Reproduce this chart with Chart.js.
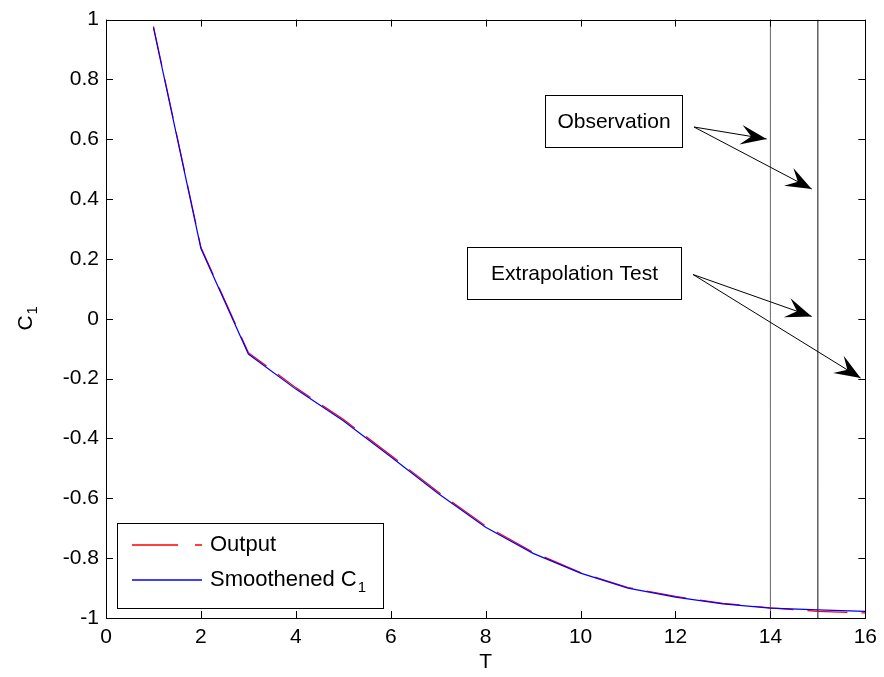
<!DOCTYPE html>
<html>
<head>
<meta charset="utf-8">
<script src="https://cdn.jsdelivr.net/npm/chart.js@4.4.1/dist/chart.umd.min.js"></script>
<style>
  html, body { margin: 0; padding: 0; background: #fff; }
  #wrap { width: 884px; height: 677px; }
</style>
</head>
<body>
<div id="wrap"><canvas id="c1Chart"></canvas></div>
<script>
// sample times
const tValues = [1, 2, 3, 4, 5, 6, 7, 8, 9, 10, 11, 12, 13, 14, 15, 16];
// smoothed coefficient and raw output
const smoothC1 = [0.973, 0.235, -0.118, -0.235, -0.341, -0.461, -0.584, -0.697, -0.784, -0.85, -0.9, -0.93, -0.953, -0.967, -0.973, -0.978];
const outputC1 = [0.977, 0.239, -0.113, -0.23, -0.336, -0.456, -0.579, -0.692, -0.78, -0.848, -0.898, -0.928, -0.951, -0.966, -0.978, -0.983];
// observation / extrapolation markers
const markerT = [14, 15];
const xTicks = [0, 2, 4, 6, 8, 10, 12, 14, 16];
const yTicks = [-1, -0.8, -0.6, -0.4, -0.2, 0, 0.2, 0.4, 0.6, 0.8, 1];

// text boxes and arrows, in axis units
const notes = [
  { text: 'Observation', box: [9.26, 0.749, 12.14, 0.574], from: [12.39, 0.641], to: [[13.92, 0.601], [14.87, 0.434]] },
  { text: 'Extrapolation Test', box: [7.6, 0.24, 12.12, 0.067], from: [12.37, 0.148], to: [[14.87, 0.008], [15.9, -0.198]] }
];

const FONT = 'Liberation Sans, Arial, Helvetica, sans-serif';

const pts = (xs, ys) => xs.map((x, i) => ({ x: x, y: ys[i] }));

const datasets = [
  {
    label: 'Output',
    data: pts(tValues, outputC1),
    borderColor: '#ff0000',
    borderWidth: 1.2,
    borderDash: [40, 14],
    pointRadius: 0,
    order: 2
  },
  {
    label: 'Smoothened C1',
    data: pts(tValues, smoothC1),
    borderColor: '#0000ff',
    borderWidth: 1.2,
    pointRadius: 0,
    order: 1
  }
];
markerT.forEach((t, i) => {
  datasets.push({
    label: 'marker' + t,
    data: [{ x: t, y: -1 }, { x: t, y: 1 }],
    borderColor: i === 0 ? '#666666' : '#111111',
    borderWidth: 1,
    pointRadius: 0,
    order: 3
  });
});

function arrow(ctx, x0, y0, x1, y1) {
  ctx.beginPath();
  ctx.moveTo(x0, y0);
  ctx.lineTo(x1, y1);
  ctx.strokeStyle = '#000';
  ctx.lineWidth = 1;
  ctx.stroke();
  const a = Math.atan2(y1 - y0, x1 - x0);
  const L = 26, W = 10;
  ctx.save();
  ctx.translate(x1, y1);
  ctx.rotate(a);
  ctx.beginPath();
  ctx.moveTo(0, 0);
  ctx.lineTo(-L, -W);
  ctx.lineTo(-L * 0.6, 0);
  ctx.lineTo(-L, W);
  ctx.closePath();
  ctx.fillStyle = '#000';
  ctx.fill();
  ctx.restore();
}

function legendRow(ctx, x, y, color, dashed, label, sub) {
  ctx.save();
  ctx.setLineDash([]);
  ctx.strokeStyle = color;
  ctx.lineWidth = 1.3;
  ctx.beginPath();
  if (dashed) {
    ctx.moveTo(x + 15, y); ctx.lineTo(x + 61, y);
    ctx.moveTo(x + 78, y); ctx.lineTo(x + 85, y);
  } else {
    ctx.moveTo(x + 15, y); ctx.lineTo(x + 85, y);
  }
  ctx.stroke();
  ctx.fillStyle = '#000';
  ctx.textAlign = 'left';
  ctx.textBaseline = 'middle';
  ctx.font = '22px ' + FONT;
  ctx.fillText(label, x + 93, y);
  if (sub) {
    const w = ctx.measureText(label).width;
    ctx.font = '15px ' + FONT;
    ctx.fillText(sub, x + 94 + w, y + 8);
  }
  ctx.restore();
}

const matlabAxes = {
  id: 'matlabAxes',
  afterDraw(chart) {
    const ctx = chart.ctx;
    const a = chart.chartArea;
    const xs = chart.scales.x, ys = chart.scales.y;
    ctx.save();

    // box
    ctx.strokeStyle = '#000';
    ctx.lineWidth = 1;
    ctx.strokeRect(Math.round(a.left) + 0.5, Math.round(a.top) + 0.5,
      Math.round(a.right - a.left), Math.round(a.bottom - a.top));

    // inward ticks on all sides
    const tl = 7;
    ctx.beginPath();
    xTicks.forEach(v => {
      const px = Math.round(xs.getPixelForValue(v)) + 0.5;
      ctx.moveTo(px, a.bottom); ctx.lineTo(px, a.bottom - tl);
      ctx.moveTo(px, a.top); ctx.lineTo(px, a.top + tl);
    });
    yTicks.forEach(v => {
      const py = Math.round(ys.getPixelForValue(v)) + 0.5;
      ctx.moveTo(a.left, py); ctx.lineTo(a.left + tl, py);
      ctx.moveTo(a.right, py); ctx.lineTo(a.right - tl, py);
    });
    ctx.stroke();

    // y axis title with subscript
    ctx.save();
    ctx.translate(32, (a.top + a.bottom) / 2);
    ctx.rotate(-Math.PI / 2);
    ctx.fillStyle = '#000';
    ctx.textBaseline = 'alphabetic';
    ctx.textAlign = 'left';
    ctx.font = '21px ' + FONT;
    const cw = ctx.measureText('C').width;
    ctx.font = '15px ' + FONT;
    const sw = ctx.measureText('1').width;
    const start = -(cw + sw) / 2;
    ctx.font = '21px ' + FONT;
    ctx.fillText('C', start, 0);
    ctx.font = '15px ' + FONT;
    ctx.fillText('1', start + cw + 1, 5);
    ctx.restore();

    // notes
    ctx.font = '21px ' + FONT;
    ctx.textBaseline = 'middle';
    ctx.textAlign = 'center';
    notes.forEach(n => {
      const x0 = Math.round(xs.getPixelForValue(n.box[0])) + 0.5;
      const y0 = Math.round(ys.getPixelForValue(n.box[1])) + 0.5;
      const x1 = Math.round(xs.getPixelForValue(n.box[2])) + 0.5;
      const y1 = Math.round(ys.getPixelForValue(n.box[3])) + 0.5;
      ctx.fillStyle = '#fff';
      ctx.fillRect(x0, y0, x1 - x0, y1 - y0);
      ctx.strokeStyle = '#000';
      ctx.lineWidth = 1;
      ctx.strokeRect(x0, y0, x1 - x0, y1 - y0);
      ctx.fillStyle = '#000';
      ctx.fillText(n.text, (x0 + x1) / 2, (y0 + y1) / 2 + 1);
      const fx = xs.getPixelForValue(n.from[0]), fy = ys.getPixelForValue(n.from[1]);
      n.to.forEach(t => arrow(ctx, fx, fy, xs.getPixelForValue(t[0]), ys.getPixelForValue(t[1])));
    });

    // legend
    const lx = Math.round(a.left) + 11, ly = Math.round(a.bottom) - 95;
    ctx.fillStyle = '#fff';
    ctx.fillRect(lx + 0.5, ly + 0.5, 266, 85);
    ctx.strokeStyle = '#000';
    ctx.lineWidth = 1;
    ctx.strokeRect(lx + 0.5, ly + 0.5, 266, 85);
    legendRow(ctx, lx, ly + 22, '#ff0000', true, 'Output', null);
    legendRow(ctx, lx, ly + 57, '#0000ff', false, 'Smoothened C', '1');

    ctx.restore();
  }
};

new Chart(document.getElementById('c1Chart'), {
  type: 'line',
  data: { datasets: datasets },
  options: {
    responsive: true,
    maintainAspectRatio: false,
    animation: false,
    layout: { padding: { top: 17, right: 16, left: 0, bottom: 0 } },
    plugins: { legend: { display: false }, tooltip: { enabled: false } },
    scales: {
      x: {
        type: 'linear',
        min: 0,
        max: 16,
        afterBuildTicks: s => { s.ticks = xTicks.map(v => ({ value: v })); },
        afterFit: s => { s.height = 59; },
        grid: { display: false, drawTicks: false },
        border: { display: false },
        ticks: { color: '#000', padding: 7, font: { family: FONT, size: 21 } },
        title: { display: true, text: 'T', color: '#000', font: { family: FONT, size: 21 }, padding: { top: 0, bottom: 2 } }
      },
      y: {
        type: 'linear',
        min: -1,
        max: 1,
        afterBuildTicks: s => { s.ticks = yTicks.map(v => ({ value: v })); },
        afterFit: s => { s.width = 106; },
        grid: { display: false, drawTicks: false },
        border: { display: false },
        ticks: {
          color: '#000',
          padding: 7,
          font: { family: FONT, size: 21 },
          callback: v => String(Number(v.toFixed(1)))
        }
      }
    }
  },
  plugins: [matlabAxes]
});
</script>
</body>
</html>
